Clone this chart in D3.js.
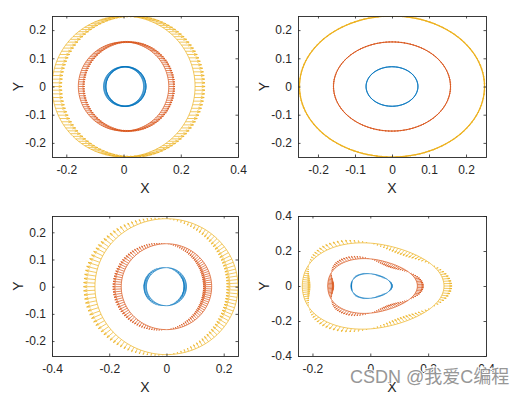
<!DOCTYPE html>
<html lang="en">
<head>
    <meta charset="UTF-8">
    <title>Particle rings quiver</title>
    <style>
        body { margin: 0; background: #fff; }
        svg { display: block; font-family: Arial, "Liberation Sans", Helvetica, sans-serif; }
        .axlabel { fill: #262626; font-size: 14px; }
        .watermark { font-family: Arial, "Liberation Sans", "Noto Sans CJK SC", sans-serif; font-size: 18px; fill: #8c8c8c; stroke: #fff; stroke-width: 2px; paint-order: stroke; opacity: 0.9; }
    </style>
    <script src="https://d3js.org/d3.v7.min.js"></script>
</head>
<body>
    <div id="chart"></div>

    <script>
        const width = 523;
        const height = 397;

        // ring radii (inner blue, middle red, outer yellow)
        const ringRadius = [0.07, 0.158, 0.25];
        const pointsPerRing = 120;

        // panel 1: uniform push to +x, arrow length per ring
        const shiftLen = [0.01, 0.022, 0.035];
        // panel 2: tangential arrows
        const swirlLen = [0.004, 0.009, 0.014];
        // panel 3: radial arrows, length ~ -cos(theta)
        const pushLen = [0.01, 0.03, 0.04];
        // panel 4: three-lobe deformation and radial arrows ~ cos(3 theta)
        const lobeRadius = [0.07, 0.155, 0.245];
        const lobeAmp = [0.04, 0.05, 0.04];
        const lobeLen = [0.004, 0.022, 0.028];

        // axis domains and ticks
        const xDomains = [[-0.25, 0.4], [-0.254, 0.254], [-0.4, 0.25], [-0.25, 0.4]];
        const yDomains = [[-0.25, 0.25], [-0.25, 0.25], [-0.255, 0.26], [-0.4, 0.4]];
        const xTicks = [[-0.2, 0, 0.2, 0.4], [-0.2, -0.1, 0, 0.1, 0.2], [-0.4, -0.2, 0, 0.2], [-0.2, 0, 0.2, 0.4]];
        const yTicks = [[-0.2, -0.1, 0, 0.1, 0.2], [-0.2, -0.1, 0, 0.1, 0.2], [-0.2, -0.1, 0, 0.1, 0.2], [-0.4, -0.2, 0, 0.2, 0.4]];

        const colors = ["#0072BD", "#D95319", "#EDB120"];

        // panel boxes in pixels
        const boxes = [
            { x0: 52, x1: 238, y0: 16, y1: 157 },
            { x0: 298, x1: 486, y0: 16, y1: 157 },
            { x0: 52, x1: 238, y0: 216, y1: 356 },
            { x0: 298, x1: 486, y0: 216, y1: 356 }
        ];

        // build arrows (base x,y and vector u,v in data units) for a panel
        function buildArrows(panel, ring) {
            const R = ringRadius[ring];
            const out = [];
            for (let i = 0; i < pointsPerRing; i++) {
                const t = 2 * Math.PI * i / pointsPerRing;
                const c = Math.cos(t), s = Math.sin(t);
                let r = R, u = 0, v = 0;
                if (panel === 0) {
                    u = shiftLen[ring];
                } else if (panel === 1) {
                    u = -s * swirlLen[ring];
                    v = c * swirlLen[ring];
                } else if (panel === 2) {
                    const k = -c * pushLen[ring];
                    u = k * c; v = k * s;
                } else {
                    r = lobeRadius[ring] * (1 + lobeAmp[ring] * Math.cos(3 * t));
                    const k = Math.cos(3 * t) * lobeLen[ring];
                    u = k * c; v = k * s;
                }
                out.push({ x: r * c, y: r * s, u: u, v: v });
            }
            return out;
        }

        const svg = d3.select("#chart").append("svg")
            .attr("width", width)
            .attr("height", height);

        svg.append("rect").attr("width", width).attr("height", height).attr("fill", "#fff");

        const fmt = d => (d === 0 ? "0" : String(d));

        boxes.forEach((b, p) => {
            const x = d3.scaleLinear().domain(xDomains[p]).range([b.x0, b.x1]);
            const y = d3.scaleLinear().domain(yDomains[p]).range([b.y1, b.y0]);

            const g = svg.append("g");

            g.append("defs").append("clipPath").attr("id", "clip" + p)
                .append("rect")
                .attr("x", b.x0).attr("y", b.y0)
                .attr("width", b.x1 - b.x0).attr("height", b.y1 - b.y0);

            const plot = g.append("g").attr("clip-path", `url(#clip${p})`);

            // quiver arrows, matlab style head
            const alpha = 0.33, beta = 0.33;
            [0, 1, 2].forEach(ring => {
                const arrows = buildArrows(p, ring);

                // thin line through particle positions
                plot.append("path")
                    .attr("d", d3.line().x(a => x(a.x)).y(a => y(a.y)).curve(d3.curveLinearClosed)(arrows))
                    .attr("fill", "none")
                    .attr("stroke", colors[ring])
                    .attr("stroke-width", p === 1 && ring === 2 ? 1.2 : 0.7);

                const d = arrows.map(a => {
                    const tx = a.x + a.u, ty = a.y + a.v;
                    const h1x = tx - alpha * (a.u + beta * a.v), h1y = ty - alpha * (a.v - beta * a.u);
                    const h2x = tx - alpha * (a.u - beta * a.v), h2y = ty - alpha * (a.v + beta * a.u);
                    return `M${x(a.x)},${y(a.y)}L${x(tx)},${y(ty)}` +
                        `M${x(h1x)},${y(h1y)}L${x(tx)},${y(ty)}L${x(h2x)},${y(h2y)}`;
                }).join("");
                plot.append("path")
                    .attr("d", d)
                    .attr("fill", "none")
                    .attr("stroke", colors[ring])
                    .attr("stroke-width", 0.7);
            });

            // axes with inward ticks
            const tl = 2.5;
            g.append("g")
                .attr("transform", `translate(0,${b.y1})`)
                .call(d3.axisBottom(x).tickValues(xTicks[p]).tickSize(-tl).tickPadding(6).tickFormat(fmt))
                .call(s => s.select(".domain").remove())
                .call(s => s.selectAll("text").attr("fill", "#262626").style("font-size", "12px").attr("dy", "0.9em"));
            g.append("g")
                .attr("transform", `translate(0,${b.y0})`)
                .call(d3.axisTop(x).tickValues(xTicks[p]).tickSize(-tl).tickFormat(""))
                .call(s => s.select(".domain").remove());
            g.append("g")
                .attr("transform", `translate(${b.x0},0)`)
                .call(d3.axisLeft(y).tickValues(yTicks[p]).tickSize(-tl).tickPadding(6).tickFormat(fmt))
                .call(s => s.select(".domain").remove())
                .call(s => s.selectAll("text").attr("fill", "#262626").style("font-size", "12px"));
            g.append("g")
                .attr("transform", `translate(${b.x1},0)`)
                .call(d3.axisRight(y).tickValues(yTicks[p]).tickSize(-tl).tickFormat(""))
                .call(s => s.select(".domain").remove());
            g.selectAll(".tick line").attr("stroke", "#262626").attr("stroke-width", 0.8);
            g.selectAll("text").attr("font-family", "Arial, 'Liberation Sans', sans-serif");

            g.append("rect")
                .attr("x", b.x0 + 0.5).attr("y", b.y0 + 0.5)
                .attr("width", b.x1 - b.x0).attr("height", b.y1 - b.y0)
                .attr("fill", "none").attr("stroke", "#262626").attr("stroke-width", 0.9);

            g.append("text").attr("class", "axlabel")
                .attr("x", (b.x0 + b.x1) / 2).attr("y", b.y1 + 36)
                .attr("text-anchor", "middle").text("X");
            g.append("text").attr("class", "axlabel")
                .attr("transform", `translate(${b.x0 - 29},${(b.y0 + b.y1) / 2}) rotate(-90)`)
                .attr("text-anchor", "middle").text("Y");
        });

        // watermark overlaps the last tick labels, as in the reference
        svg.append("text").attr("class", "watermark")
            .attr("x", 350).attr("y", 383)
            .text("CSDN @我爱C编程");
    </script>
</body>
</html>
